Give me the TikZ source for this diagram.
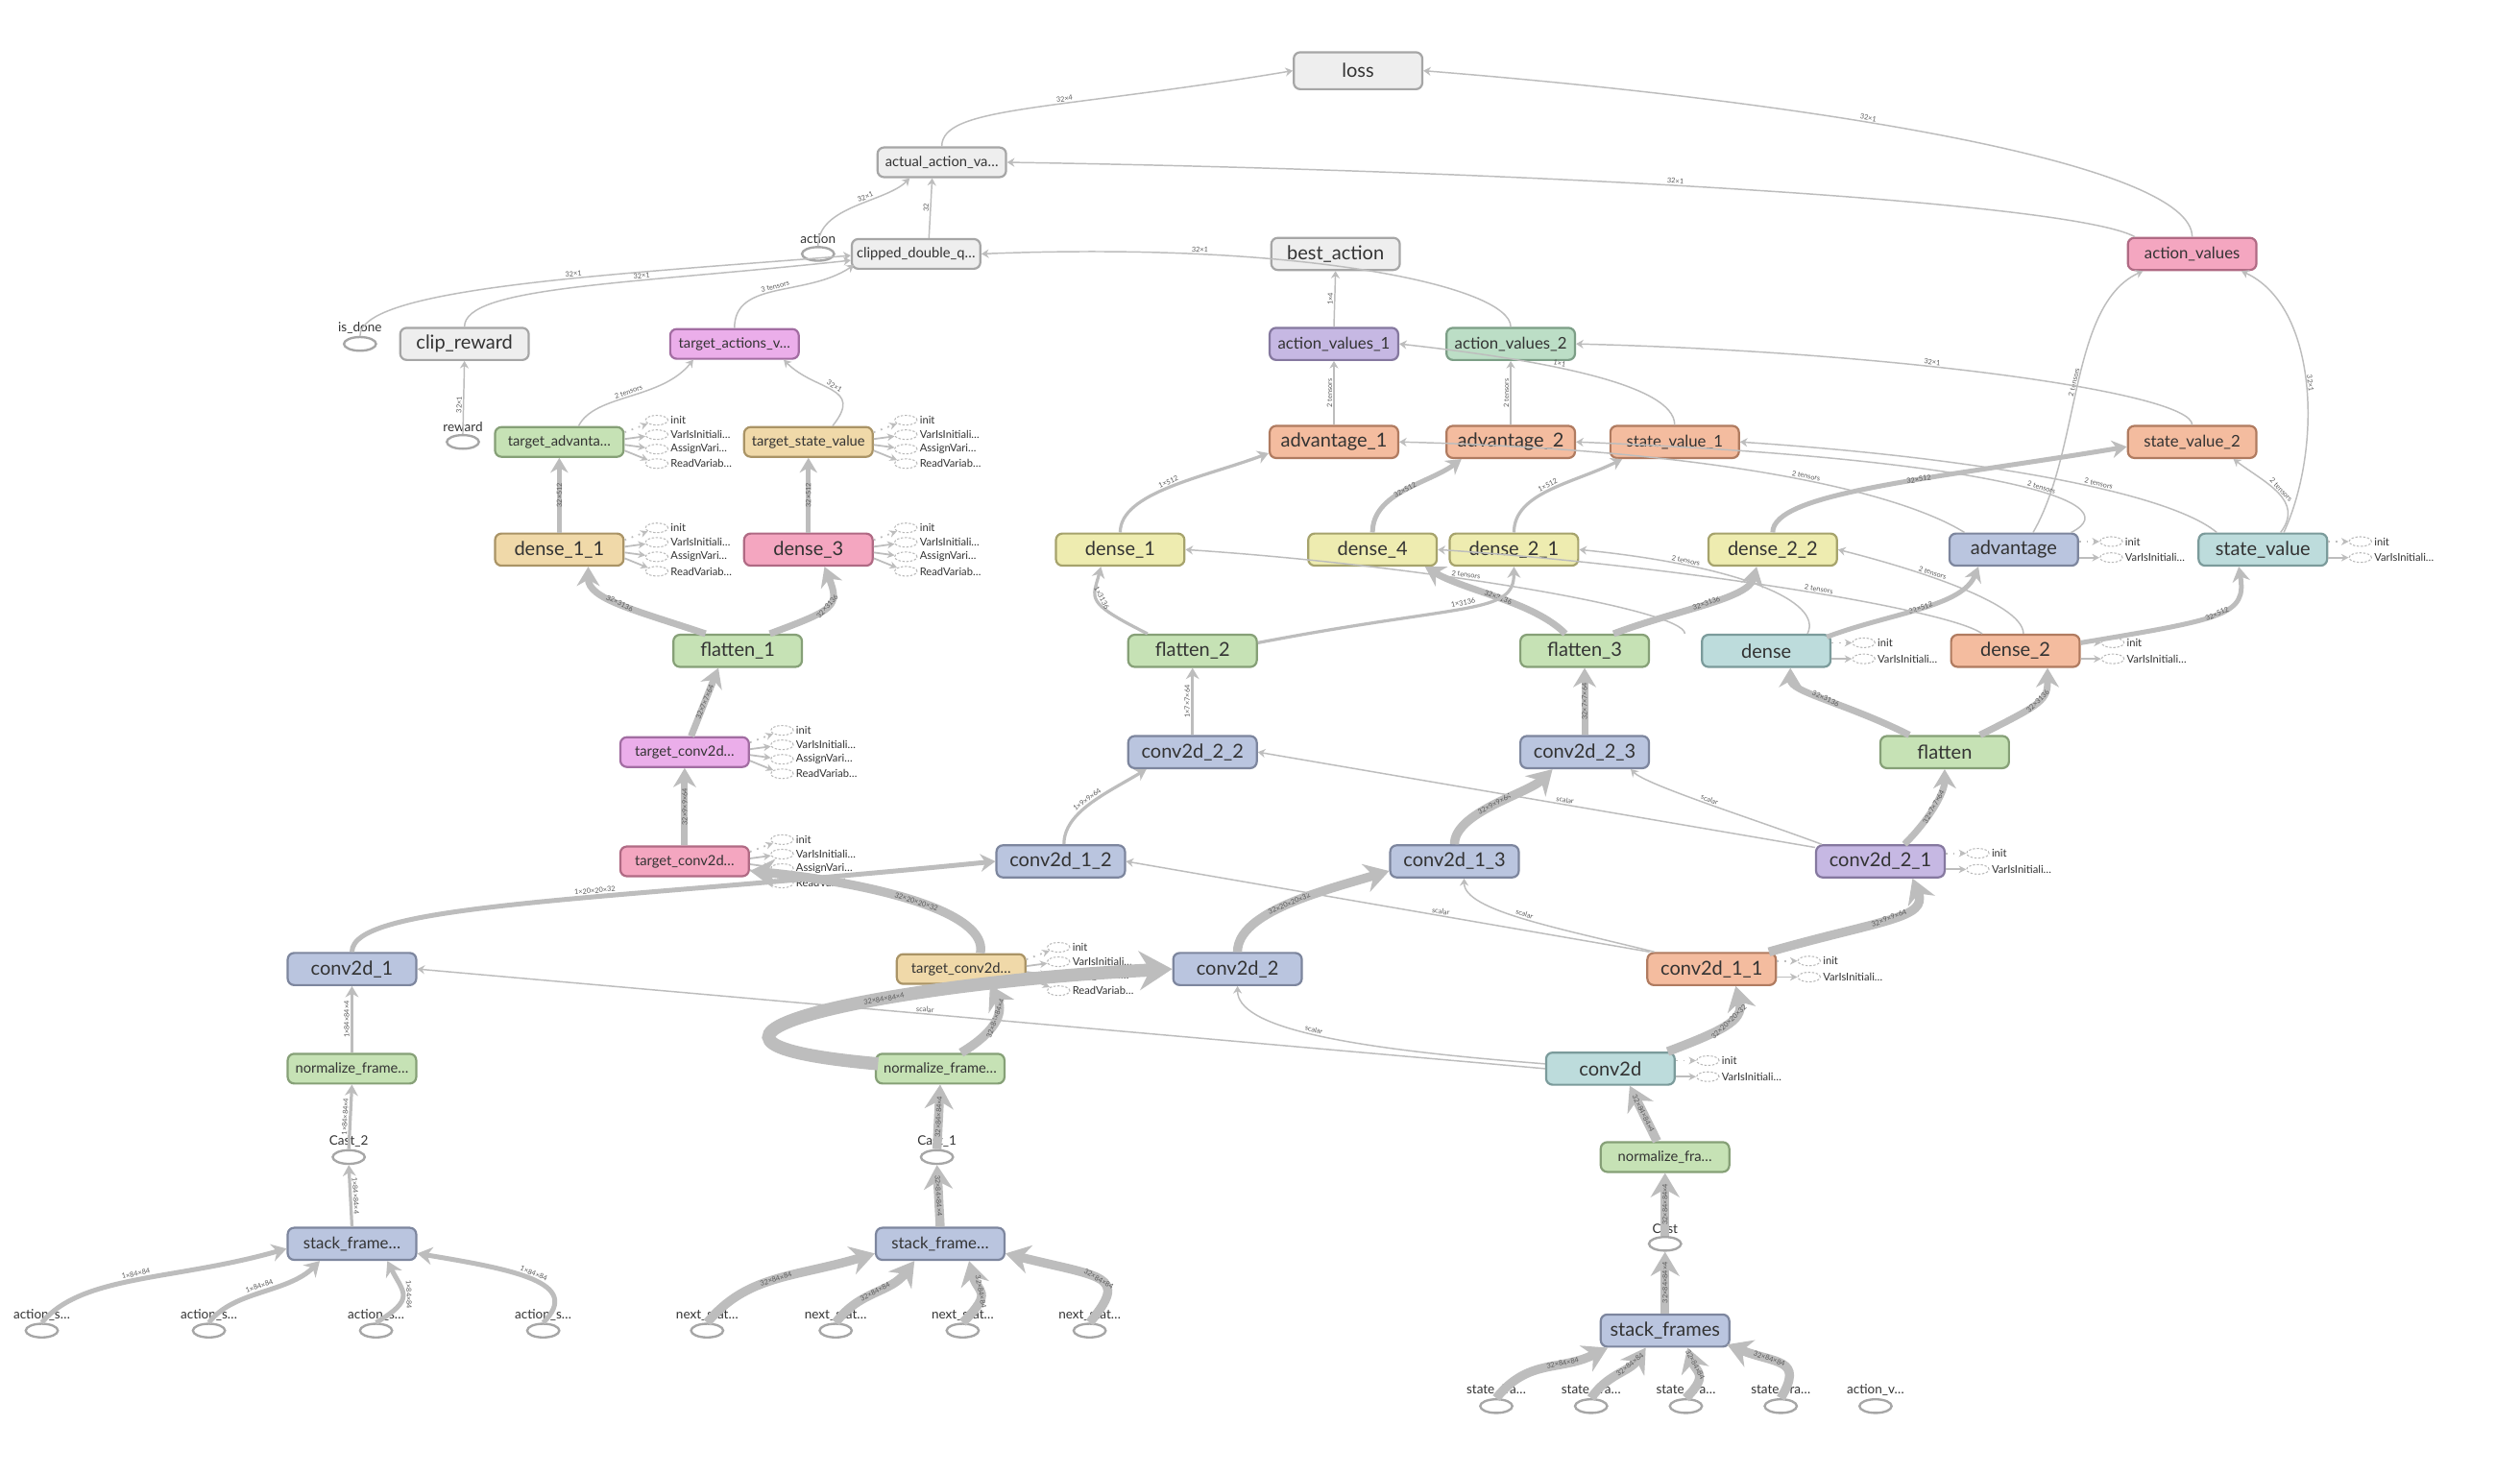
\documentclass[tikz,border=0pt]{standalone}
\usepackage{fontspec}
\setmainfont{Lato}
\usetikzlibrary{shapes.geometric,arrows.meta,calc,positioning}

\definecolor{edgegray}{HTML}{BDBDBD}
\definecolor{txtgray}{HTML}{333333}
\definecolor{labgray}{HTML}{5A5A5A}
\definecolor{fgray}{HTML}{EEEEEE}\definecolor{dgray}{HTML}{A6A6A6}
\definecolor{fblue}{HTML}{BAC5DF}\definecolor{dblue}{HTML}{7D869E}
\definecolor{fgreen}{HTML}{C6E2B5}\definecolor{dgreen}{HTML}{86A077}
\definecolor{ftan}{HTML}{F0D9A9}\definecolor{dtan}{HTML}{AA9466}
\definecolor{fpink}{HTML}{F4A6C0}\definecolor{dpink}{HTML}{B06A84}
\definecolor{fmag}{HTML}{EBAEEA}\definecolor{dmag}{HTML}{A26DA2}
\definecolor{fpurple}{HTML}{C6B8E3}\definecolor{dpurple}{HTML}{85789F}
\definecolor{fmint}{HTML}{BCDEC6}\definecolor{dmint}{HTML}{7C9E86}
\definecolor{fsalmon}{HTML}{F4BC9F}\definecolor{dsalmon}{HTML}{B07B60}
\definecolor{fyellow}{HTML}{EEECB0}\definecolor{dyellow}{HTML}{A6A36C}
\definecolor{fteal}{HTML}{BDDCDC}\definecolor{dteal}{HTML}{7B9B9B}

\newcommand{\fsz}[1]{\fontsize{#1}{#1}\selectfont}

% variables hanging off a layer
\newcommand{\fourvars}[1]{%
  \foreach \vlbl [count=\k] in {init,VarIsInitiali\dots,AssignVari\dots,ReadVariab\dots} {
    \node[varell] (#1v\k) at ($(#1.east)+(20,{13.5-(\k-1)*9})$) {};
    \node[varlbl] (#1t\k) at (#1v\k.east) {\vlbl};
    \ifnum\k=1
      \draw[varlink, dotted] ($(#1.east)+(0,6)$) -- (#1v\k);
    \else
      \draw[varlink] ($(#1.east)+(0,{(13.5-(\k-1)*9)*0.4})$) -- (#1v\k);
    \fi
  }%
}
\newcommand{\twovars}[1]{%
  \foreach \vlbl [count=\k] in {init,VarIsInitiali\dots} {
    \node[varell] (#1v\k) at ($(#1.east)+(20,{15-10*\k})$) {};
    \node[varlbl] (#1t\k) at (#1v\k.east) {\vlbl};
    \ifnum\k=1
      \draw[varlink, dotted] ($(#1.east)+(0,5)$) -- (#1v\k);
    \else
      \draw[varlink] ($(#1.east)+(0,-5)$) -- (#1v\k);
    \fi
  }%
}

\begin{document}
\begin{tikzpicture}[x=0.02cm, y=0.02cm,
    op/.style={rectangle, rounded corners=2.3pt, minimum width=1.6cm, minimum height=0.4cm, inner sep=0pt, line width=0.75pt, text=txtgray},
    opbig/.style={op, font=\fsz{6.8}},
    opmid/.style={op, font=\fsz{5.7}},
    opsmall/.style={op, font=\fsz{5}, minimum height=0.37cm},
    cgray/.style={fill=fgray, draw=dgray},
    cblue/.style={fill=fblue, draw=dblue},
    cgreen/.style={fill=fgreen, draw=dgreen},
    ctan/.style={fill=ftan, draw=dtan},
    cpink/.style={fill=fpink, draw=dpink},
    cmag/.style={fill=fmag, draw=dmag},
    cpurple/.style={fill=fpurple, draw=dpurple},
    cmint/.style={fill=fmint, draw=dmint},
    csalmon/.style={fill=fsalmon, draw=dsalmon},
    cyellow/.style={fill=fyellow, draw=dyellow},
    cteal/.style={fill=fteal, draw=dteal},
    placeholder/.style={ellipse, draw=dgray, line width=0.8pt, fill=white, minimum width=0.4cm, minimum height=0.17cm, inner sep=0pt},
    phlbl/.style={font=\fsz{4.6}, text=txtgray, inner sep=0.6pt},
    varell/.style={ellipse, draw=dgray!80, dash pattern=on 0.8pt off 0.6pt, line width=0.35pt, minimum width=0.28cm, minimum height=0.12cm, inner sep=0pt},
    varlbl/.style={anchor=west, font=\fsz{3.8}, text=txtgray, inner sep=0.6pt},
    varlink/.style={draw=edgegray, line width=0.6pt, -{Stealth[length=2.6pt, width=2.6pt]}},
    flow/.style={draw=edgegray, -{Stealth[length=1.5pt 2.2, width=1.8pt 2.6]}},
    w1/.style={flow, line width=0.5pt},
    w2/.style={flow, line width=1.1pt},
    w3/.style={flow, line width=1.7pt},
    w4/.style={flow, line width=2.4pt},
    w5/.style={flow, line width=3.2pt},
    w6/.style={flow, line width=4.6pt},
    elab/.style={pos=0.5, font=\fsz{2.5}, text=labgray, sloped, inner sep=0.4pt},
  ]
  \path[use as bounding box, fill=white] (0,0) rectangle (1568,-917);

  % graph outputs
  \node[opbig, cgray, minimum height=0.46cm] (loss) at (845,-44) {loss};
  \node[opsmall, cgray] (actual) at (586,-101) {actual\_action\_va\dots};
  \node[opsmall, cgray] (clipped) at (570,-158) {clipped\_double\_q\dots};
  \node[opbig, cgray] (bestaction) at (831,-158) {best\_action};
  \node[opmid, cpink] (actionvalues) at (1364,-158) {action\_values};
  \node[opbig, cgray] (clipreward) at (289,-214) {clip\_reward};
  \node[opsmall, cmag] (targetactions) at (457,-214) {target\_actions\_v\dots};
  \node[opmid, cpurple] (actionvalues1) at (830,-214) {action\_values\_1};
  \node[opmid, cmint] (actionvalues2) at (940,-214) {action\_values\_2};
  \node[opsmall, cgreen] (targetadv) at (348,-275) {target\_advanta\dots};
  \node[opsmall, ctan] (targetsv) at (503,-275) {target\_state\_value};
  \node[opbig, csalmon] (adv1) at (830,-275) {advantage\_1};
  \node[opbig, csalmon] (adv2) at (940,-275) {advantage\_2};
  \node[opmid, csalmon] (sv1) at (1042,-275) {state\_value\_1};
  \node[opmid, csalmon] (sv2) at (1364,-275) {state\_value\_2};

  % dense layers
  \node[opbig, ctan] (dense11) at (348,-342) {dense\_1\_1};
  \node[opbig, cpink] (dense3) at (503,-342) {dense\_3};
  \node[opbig, cyellow] (dense1) at (697,-342) {dense\_1};
  \node[opbig, cyellow] (dense4) at (854,-342) {dense\_4};
  \node[opbig, cyellow] (dense21) at (942,-342) {dense\_2\_1};
  \node[opbig, cyellow] (dense22) at (1103,-342) {dense\_2\_2};
  \node[opbig, cblue] (advantage) at (1253,-342) {advantage};
  \node[opbig, cteal] (statevalue) at (1408,-342) {state\_value};
  \node[opbig, cgreen] (flatten1) at (459,-405) {flatten\_1};
  \node[opbig, cgreen] (flatten2) at (742,-405) {flatten\_2};
  \node[opbig, cgreen] (flatten3) at (986,-405) {flatten\_3};
  \node[opbig, cteal] (dense) at (1099,-405) {dense};
  \node[opbig, csalmon] (dense2) at (1254,-405) {dense\_2};

  % conv layers
  \node[opsmall, cmag] (tconvA) at (426,-468) {target\_conv2d\dots};
  \node[opbig, cblue] (conv2d22) at (742,-468) {conv2d\_2\_2};
  \node[opbig, cblue] (conv2d23) at (986,-468) {conv2d\_2\_3};
  \node[opbig, cgreen] (flatten) at (1210,-468) {flatten};
  \node[opsmall, cpink] (tconvB) at (426,-536) {target\_conv2d\dots};
  \node[opbig, cblue] (conv2d12) at (660,-536) {conv2d\_1\_2};
  \node[opbig, cblue] (conv2d13) at (905,-536) {conv2d\_1\_3};
  \node[opbig, cpurple] (conv2d21) at (1170,-536) {conv2d\_2\_1};
  \node[opbig, cblue] (conv2d1) at (219,-603) {conv2d\_1};
  \node[opsmall, ctan] (tconvC) at (598,-603) {target\_conv2d\dots};
  \node[opbig, cblue] (conv2d2) at (770,-603) {conv2d\_2};
  \node[opbig, csalmon] (conv2d11) at (1065,-603) {conv2d\_1\_1};
  \node[opsmall, cgreen] (normA) at (219,-665) {normalize\_frame\dots};
  \node[opsmall, cgreen] (normB) at (585,-665) {normalize\_frame\dots};
  \node[opbig, cteal] (conv2d) at (1002,-665) {conv2d};
  \node[opsmall, cgreen] (normC) at (1036,-720) {normalize\_fra\dots};
  \node[opmid, cblue] (stackA) at (219,-774) {stack\_frame\dots};
  \node[opmid, cblue] (stackB) at (585,-774) {stack\_frame\dots};
  \node[opbig, cblue] (stacks) at (1036,-828) {stack\_frames};

  % placeholders
  \node[placeholder, label={[phlbl]above:action}] (action) at (509,-158) {};
  \node[placeholder, label={[phlbl]above:is\_done}] (isdone) at (224,-214) {};
  \node[placeholder, label={[phlbl]above:reward}] (reward) at (288,-275) {};
  \node[placeholder, label={[phlbl]above:Cast\_2}] (cast2) at (217,-720) {};
  \node[placeholder, label={[phlbl]above:Cast\_1}] (cast1) at (583,-720) {};
  \node[placeholder, label={[phlbl]above:Cast}] (cast) at (1036,-774) {};
  \foreach \i/\xx in {1/26,2/130,3/234,4/338}
    \node[placeholder, label={[phlbl]above:action\_s\dots}] (as\i) at (\xx,-828) {};
  \foreach \i/\xx in {1/440,2/520,3/599,4/678}
    \node[placeholder, label={[phlbl]above:next\_stat\dots}] (ns\i) at (\xx,-828) {};
  \foreach \i/\xx in {1/931,2/990,3/1049,4/1108}
    \node[placeholder, label={[phlbl]above:state\_fra\dots}] (sf\i) at (\xx,-875) {};
  \node[placeholder, label={[phlbl]above:action\_v\dots}] (actionv) at (1167,-875) {};

  % layer variables
  \fourvars{targetadv} \fourvars{targetsv} \fourvars{dense11} \fourvars{dense3}
  \fourvars{tconvA} \fourvars{tconvB} \fourvars{tconvC}
  \twovars{advantage} \twovars{statevalue} \twovars{dense} \twovars{dense2}
  \twovars{conv2d21} \twovars{conv2d11} \twovars{conv2d}

  % loss and targets
  \draw[w1] (actual.north) .. controls +(0,25) and +(-150,-25) .. (loss.west) node[elab, above, pos=0.6] {32×4};
  \draw[w1] (actionvalues.north) .. controls +(0,45) and +(250,-20) .. (loss.east) node[elab, above, pos=0.6] {32×1};
  \draw[w1] ($(actionvalues.north west)+(5,0)$) .. controls +(-40,22) and +(320,-5) .. (actual.east) node[elab, above, pos=0.55] {32×1};
  \draw[w1] (action.north) .. controls +(0,25) and +(-15,-15) .. ($(actual.south)+(-20,0)$) node[elab, above, pos=0.6] {32×1};
  \draw[w1] ($(clipped.north)+(8,0)$) -- ($(actual.south)+(-6,0)$) node[elab, above] {32};
  \draw[w1] (isdone.north) .. controls +(0,30) and +(-150,-12) .. ($(clipped.west)+(0,-1)$) node[elab, above, pos=0.6] {32×1};
  \draw[w1] (clipreward.north) .. controls +(0,25) and +(-140,-15) .. ($(clipped.west)+(0,-4)$) node[elab, above, pos=0.65] {32×1};
  \draw[w1] (targetactions.north) .. controls +(0,30) and +(-30,-20) .. ($(clipped.south west)+(2,3)$) node[elab, above] {3 tensors};
  \draw[w1] (actionvalues2.north) .. controls +(0,25) and +(200,8) .. (clipped.east) node[elab, above, pos=0.75] {32×1};
  \draw[w1] (reward.north) -- (clipreward.south) node[elab, above, pos=0.4] {32×1};
  \draw[w1] ($(targetadv.north)+(12,0)$) .. controls +(10,20) and +(-20,-25) .. ($(targetactions.south west)+(15,0)$) node[elab, above] {2 tensors};
  \draw[w1] ($(targetsv.north)+(15,0)$) .. controls +(20,25) and +(20,-20) .. ($(targetactions.south east)+(-10,0)$) node[elab, above] {32×1};

  % target network
  \draw[w3] (dense11.north) -- (targetadv.south) node[elab] {32×512};
  \draw[w3] (dense3.north) -- (targetsv.south) node[elab] {32×512};
  \draw[w4] ($(flatten1.north)+(-20,0)$) .. controls +(-45,15) and +(0,-20) .. ($(dense11.south)+(18,0)$) node[elab] {32×3136};
  \draw[w4] ($(flatten1.north)+(20,0)$) .. controls +(40,15) and +(10,-25) .. ($(dense3.south)+(10,0)$) node[elab] {32×3136};
  \draw[w4] ($(tconvA.north)+(4,0)$) -- ($(flatten1.south)+(-12,0)$) node[elab] {32×7×7×64};
  \draw[w4] (tconvB.north) -- (tconvA.south) node[elab] {32×9×9×64};
  \draw[w5] ($(tconvC.north)+(12,0)$) .. controls +(5,25) and +(80,-8) .. ($(tconvB.south east)+(0,4)$) node[elab] {32×20×20×32};
  \draw[w3] (conv2d1.north) .. controls +(0,30) and +(-250,-25) .. (conv2d12.west) node[elab, above, pos=0.6] {1×20×20×32};

  % single frame input
  \draw[w2] (normA.north) -- (conv2d1.south) node[elab, above] {1×84×84×4};
  \draw[w2] (cast2.north) -- (normA.south) node[elab, above] {1×84×84×4};
  \draw[w2] (stackA.north) -- (cast2.south) node[elab, above] {1×84×84×4};
  \draw[w3] (as1.north) .. controls +(25,30) and +(-70,-20) .. ($(stackA.west)+(0,-3)$) node[elab, above] {1×84×84};
  \draw[w3] (as2.north) .. controls +(15,20) and +(-20,-20) .. ($(stackA.south)+(-20,0)$) node[elab, above] {1×84×84};
  \draw[w3] (as3.north) .. controls +(25,15) and +(10,-20) .. ($(stackA.south)+(22,0)$) node[elab, above] {1×84×84};
  \draw[w3] (as4.north) .. controls +(25,25) and +(60,-10) .. ($(stackA.east)+(0,-6)$) node[elab, above] {1×84×84};

  % next state batch
  \draw[w5] (ns1.north) .. controls +(25,30) and +(-50,-15) .. ($(stackB.west)+(0,-6)$) node[elab] {32×84×84};
  \draw[w5] (ns2.north) .. controls +(15,20) and +(-15,-20) .. ($(stackB.south)+(-16,0)$) node[elab] {32×84×84};
  \draw[w5] (ns3.north) .. controls +(20,20) and +(5,-20) .. ($(stackB.south)+(18,0)$) node[elab] {32×84×84};
  \draw[w5] (ns4.north) .. controls +(25,30) and +(60,-15) .. ($(stackB.east)+(0,-6)$) node[elab] {32×84×84};
  \draw[w5] (stackB.north) -- (cast1.south) node[elab] {32×84×84×4};
  \draw[w5] (cast1.north) -- (normB.south) node[elab] {32×84×84×4};
  \draw[w5] ($(normB.north)+(13,0)$) .. controls +(25,15) and +(8,-15) .. ($(tconvC.south)+(18,0)$) node[elab] {32×84×84×4};
  \draw[w6] ($(normB.west)+(2,3)$) .. controls +(-170,15) and +(-170,-8) .. (conv2d2.west) node[elab, pos=0.62] {32×84×84×4};

  % state batch
  \draw[w5] (sf1.north) .. controls +(20,25) and +(-30,-15) .. ($(stacks.south west)+(5,0)$) node[elab, pos=0.65] {32×84×84};
  \draw[w5] (sf2.north) .. controls +(10,15) and +(-10,-15) .. ($(stacks.south)+(-12,0)$) node[elab, pos=0.7] {32×84×84};
  \draw[w5] (sf3.north) .. controls +(15,15) and +(5,-15) .. ($(stacks.south)+(14,0)$) node[elab, pos=0.7] {32×84×84};
  \draw[w5] (sf4.north) .. controls +(15,25) and +(30,-12) .. ($(stacks.south east)+(-2,2)$) node[elab, pos=0.65] {32×84×84};
  \draw[w5] (stacks.north) -- (cast.south) node[elab] {32×84×84×4};
  \draw[w5] (cast.north) -- (normC.south) node[elab] {32×84×84×4};
  \draw[w5] ($(normC.north)+(-5,0)$) -- ($(conv2d.south)+(12,0)$) node[elab] {32×84×84×4};

  % online network
  \draw[w5] ($(conv2d.north east)+(-5,0)$) .. controls +(40,15) and +(5,-20) .. ($(conv2d11.south)+(15,0)$) node[elab] {32×20×20×32};
  \draw[w5] ($(conv2d11.north east)+(-5,0)$) .. controls +(70,20) and +(10,-25) .. ($(conv2d21.south)+(20,0)$) node[elab] {32×9×9×64};
  \draw[w4] ($(conv2d21.north)+(15,0)$) .. controls +(15,15) and +(0,-15) .. (flatten.south) node[elab] {32×7×7×64};
  \draw[w4] ($(flatten.north)+(-22,0)$) .. controls +(-40,20) and +(0,-15) .. ($(dense.south)+(15,0)$) node[elab] {32×3136};
  \draw[w4] ($(flatten.north)+(22,0)$) .. controls +(40,20) and +(0,-20) .. ($(dense2.south)+(20,0)$) node[elab] {32×3136};
  \draw[w3] ($(dense.north east)+(-3,-2)$) .. controls +(40,15) and +(-10,-25) .. ($(advantage.south)+(-22,0)$) node[elab] {32×512};
  \draw[w3] ($(dense2.east)+(0,5)$) .. controls +(90,15) and +(5,-30) .. ($(statevalue.south)+(-15,0)$) node[elab] {32×512};
  \draw[w1] ($(advantage.north)+(12,0)$) .. controls +(30,52) and +(-46,-21) .. ($(actionvalues.south west)+(10,0)$) node[elab, above] {2 tensors};
  \draw[w1] ($(statevalue.north)+(13,0)$) .. controls +(24,52) and +(48,-22) .. ($(actionvalues.south east)+(-10,0)$) node[elab, above] {32×1};
  \draw[w1] ($(statevalue.north)+(11,0)$) .. controls +(15,20) and +(20,-15) .. ($(sv2.south east)+(-15,0)$) node[elab, above] {2 tensors};

  % second batch network
  \draw[w5] (conv2d2.north) .. controls +(0,25) and +(-40,-12) .. ($(conv2d13.west)+(0,-6)$) node[elab] {32×20×20×32};
  \draw[w5] (conv2d13.north) .. controls +(0,20) and +(-15,-15) .. ($(conv2d23.south)+(-20,0)$) node[elab] {32×9×9×64};
  \draw[w4] (conv2d23.north) -- (flatten3.south) node[elab] {32×7×7×64};
  \draw[w4] ($(flatten3.north)+(-12,0)$) .. controls +(-20,20) and +(25,-15) .. ($(dense4.south east)+(-8,0)$) node[elab] {32×3136};
  \draw[w4] ($(flatten3.north)+(18,0)$) .. controls +(40,15) and +(-5,-20) .. ($(dense22.south)+(-10,0)$) node[elab] {32×3136};
  \draw[w3] (dense4.north) .. controls +(0,25) and +(-20,-15) .. ($(adv2.south west)+(10,0)$) node[elab] {32×512};
  \draw[w3] (dense22.north) .. controls +(0,25) and +(-120,-20) .. ($(sv2.west)+(0,-3)$) node[elab, pos=0.6] {32×512};
  \draw[w1] (adv2.north) -- (actionvalues2.south) node[elab, above] {2 tensors};
  \draw[w1] (sv2.north) .. controls +(0,20) and +(200,-5) .. (actionvalues2.east) node[elab, above, pos=0.6] {32×1};

  % single state network
  \draw[w2] ($(conv2d12.north)+(2,0)$) .. controls +(0,20) and +(-25,-15) .. ($(conv2d22.south west)+(12,0)$) node[elab, above] {1×9×9×64};
  \draw[w2] (conv2d22.north) -- (flatten2.south) node[elab, above] {1×7×7×64};
  \draw[w2] ($(flatten2.north)+(-28,0)$) .. controls +(-40,20) and +(-5,-20) .. ($(dense1.south)+(-12,0)$) node[elab, above] {1×3136};
  \draw[w2] ($(flatten2.east)+(0,5)$) .. controls +(130,25) and +(0,-30) .. (dense21.south) node[elab, above] {1×3136};
  \draw[w2] (dense1.north) .. controls +(0,25) and +(-40,-15) .. ($(adv1.west)+(0,-7)$) node[elab, above] {1×512};
  \draw[w2] (dense21.north) .. controls +(0,25) and +(-30,-15) .. ($(sv1.south west)+(8,0)$) node[elab, above] {1×512};
  \draw[w1] (adv1.north) -- (actionvalues1.south) node[elab, above] {2 tensors};
  \draw[w1] (sv1.north) .. controls +(0,25) and +(90,-10) .. (actionvalues1.east) node[elab, above, pos=0.6] {1×1};
  \draw[w1] (actionvalues1.north) -- (bestaction.south) node[elab, above] {1×4};

  % shared weights
  \draw[w1] ($(advantage.north west)+(10,0)$) .. controls +(-40,25) and +(200,-5) .. (adv1.east) node[elab, above, pos=0.45] {2 tensors};
  \draw[w1] ($(advantage.north east)+(-5,0)$) .. controls +(40,20) and +(250,-10) .. (adv2.east) node[elab, above, pos=0.4] {2 tensors};
  \draw[w1] ($(statevalue.north west)+(12,0)$) .. controls +(-30,25) and +(150,-10) .. (sv1.east) node[elab, above, pos=0.4] {2 tensors};
  \draw[w1] ($(dense.north west)+(-10,0)$) .. controls +(0,15) and +(150,-10) .. (dense1.east) node[elab, above, pos=0.6] {2 tensors};
  \draw[w1] ($(dense.north east)+(-15,0)$) .. controls +(10,20) and +(100,-10) .. (dense21.east) node[elab, above, pos=0.75] {2 tensors};
  \draw[w1] ($(dense2.north west)+(20,0)$) .. controls +(-20,15) and +(150,-10) .. (dense4.east) node[elab, above, pos=0.45] {2 tensors};
  \draw[w1] ($(dense2.north)+(5,0)$) .. controls +(0,20) and +(40,-10) .. (dense22.east) node[elab, above, pos=0.6] {2 tensors};
  \draw[w1] ($(conv2d11.north west)+(2,0)$) -- (conv2d12.east) node[elab, above, pos=0.4] {scalar};
  \draw[w1] ($(conv2d11.north west)+(5,0)$) .. controls +(-60,15) and +(0,-20) .. ($(conv2d13.south)+(6,0)$) node[elab, above] {scalar};
  \draw[w1] ($(conv2d21.north west)+(0,-2)$) -- (conv2d22.east) node[elab, above, pos=0.45] {scalar};
  \draw[w1] ($(conv2d21.north west)+(4,0)$) .. controls +(-40,15) and +(10,-10) .. ($(conv2d23.south east)+(-12,0)$) node[elab, above] {scalar};
  \draw[w1] (conv2d.west) -- (conv2d1.east) node[elab, above, pos=0.55] {scalar};
  \draw[w1] ($(conv2d.west)+(0,3)$) .. controls +(-130,10) and +(0,-25) .. (conv2d2.south) node[elab, above] {scalar};
\end{tikzpicture}
\end{document}
